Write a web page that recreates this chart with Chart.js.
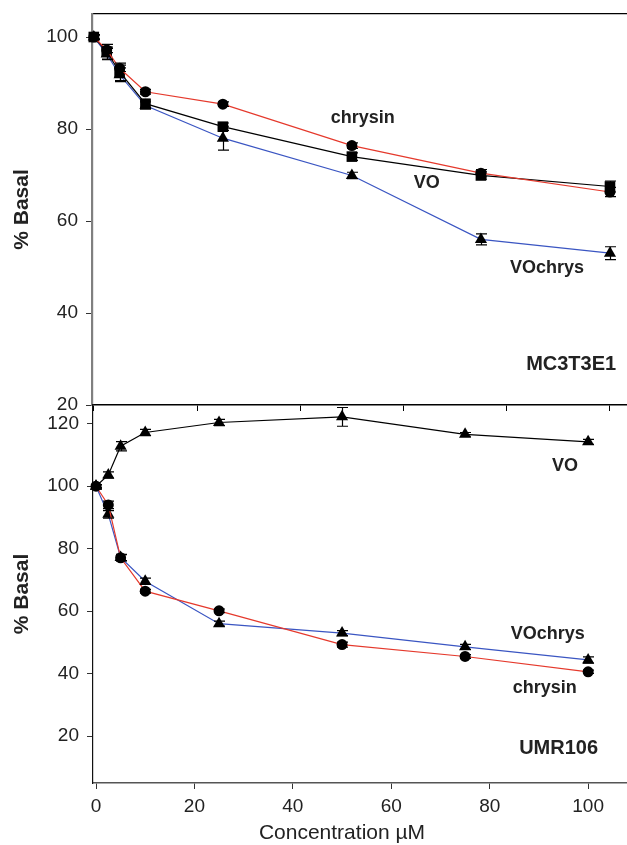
<!DOCTYPE html>
<html><head><meta charset="utf-8">
<script src="https://cdn.jsdelivr.net/npm/chart.js@4.4.0/dist/chart.umd.min.js"></script>
<style>
html,body{margin:0;padding:0;background:#fff;}
#wrap{position:relative;width:627px;height:845px;overflow:hidden;background:#fff;}
canvas{position:absolute;left:0;}
#xt{position:absolute;left:0;width:684px;top:820px;text-align:center;font:21px "Liberation Sans",Arial,sans-serif;color:#222;line-height:24px;}
</style></head><body>
<div id="wrap">
<canvas id="top" width="627" height="420" style="top:0;width:627px;height:420px"></canvas>
<canvas id="bot" width="627" height="445" style="top:400px;width:627px;height:445px"></canvas>
<div id="xt">Concentration µM</div>
</div>
<script>
// ---- data ----
const conc = [0, 2.5, 5, 10, 25, 50, 75, 100];

// MC3T3E1 (top panel)
const mcChrysin     = [100, 97.2, 93.2, 88.1, 85.4, 76.4, 70.4, 66.3];
const mcChrysinErr  = [0.5, 0.6, 0.7, 0.5, 0.5, 0.6, 0.8, 1.0];
const mcVO          = [100, 96.8, 92.4, 85.5, 80.5, 74.0, 69.9, 67.5];
const mcVOErr       = [0.5, 1.6, 1.9, 0.8, 0.8, 0.8, 0.8, 1.2];
const mcVOchrys     = [100, 96.3, 91.8, 85.1, 78.0, 69.9, 56.0, 53.0];
const mcVOchrysErr  = [0.4, 1.2, 1.5, 0.8, 2.6, 0.7, 1.2, 1.4];

// UMR106 (bottom panel)
const umrVO         = [100, 103.6, 112.8, 117.2, 120.4, 122.2, 116.6, 114.2];
const umrVOErr      = [0.5, 1.0, 1.5, 1.0, 1.0, 3.0, 0.6, 0.8];
const umrChrysin    = [100, 94.0, 77.1, 66.4, 60.1, 49.3, 45.5, 40.6];
const umrChrysinErr = [0.5, 1.2, 1.0, 0.6, 0.6, 0.8, 0.6, 0.5];
const umrVOchrys    = [100, 91.0, 77.2, 69.6, 56.0, 53.0, 48.6, 44.4];
const umrVOchrysErr = [0.5, 1.2, 1.0, 1.0, 0.8, 0.8, 0.8, 1.0];

// ticks
const mcYTicks  = [20, 40, 60, 80, 100];
const mcXTicks  = [0, 20, 40, 60, 80, 100];
const umrYTicks = [20, 40, 60, 80, 100, 120];
const umrXTicks = [0, 20, 40, 60, 80, 100];

// ---- styling ----
const FONT = '"Liberation Sans", Arial, Helvetica, sans-serif';
const RED = '#e5392c', BLUE = '#3a55c2', BLACK = '#000';
const TXT = '#222';

function ds(label, ys, err, color, style, r) {
  return {
    label, err,
    data: conc.map((x, i) => ({x, y: ys[i]})),
    borderColor: color, borderWidth: 1.2,
    pointStyle: style, pointRadius: r, pointHoverRadius: r,
    pointBackgroundColor: '#000', pointBorderColor: '#000', pointBorderWidth: 0,
    tension: 0, clip: false, fill: false
  };
}

const errorBars = {
  id: 'errorBars',
  afterDatasetsDraw(chart) {
    const {ctx} = chart; const xs = chart.scales.x, ys = chart.scales.y;
    chart.data.datasets.forEach(d => {
      if (!d.err) return;
      ctx.save(); ctx.strokeStyle = '#000'; ctx.lineWidth = 1.2;
      d.data.forEach((p, i) => {
        const e = d.err[i]; if (!e) return;
        const px = Math.round(xs.getPixelForValue(p.x)) + 0.5;
        const y1 = ys.getPixelForValue(p.y + e), y2 = ys.getPixelForValue(p.y - e);
        const cw = 5.5;
        ctx.beginPath();
        ctx.moveTo(px, y1); ctx.lineTo(px, y2);
        ctx.moveTo(px - cw, y1); ctx.lineTo(px + cw, y1);
        ctx.moveTo(px - cw, y2); ctx.lineTo(px + cw, y2);
        ctx.stroke();
      });
      ctx.restore();
    });
  }
};

function textPlugin(items) {
  return {
    id: 'textLabels',
    afterDraw(chart) {
      const {ctx} = chart; const xs = chart.scales.x, ys = chart.scales.y;
      items.forEach(it => {
        ctx.save();
        ctx.font = 'bold ' + it.size + 'px ' + FONT;
        ctx.fillStyle = TXT; ctx.textAlign = it.align || 'center'; ctx.textBaseline = 'middle';
        ctx.fillText(it.text, xs.getPixelForValue(it.x), ys.getPixelForValue(it.y));
        ctx.restore();
      });
    }
  };
}

function zeroPad(s) { s.paddingTop = 0; s.paddingBottom = 0; s.paddingLeft = 0; s.paddingRight = 0; }

const tickFont = {family: FONT, size: 19};
const titleFont = {family: FONT, size: 21, weight: 'bold'};

// ---- top chart ----
new Chart(document.getElementById('top'), {
  type: 'line',
  data: {datasets: [
    ds('chrysin', mcChrysin, mcChrysinErr, RED, 'circle', 5.5),
    ds('VO', mcVO, mcVOErr, BLACK, 'rect', 7.5),
    ds('VOchrys', mcVOchrys, mcVOchrysErr, BLUE, 'triangle', 7)
  ]},
  options: {
    responsive: false, animation: false, devicePixelRatio: 1,
    layout: {autoPadding: false, padding: {top: 14, left: 0, right: 0, bottom: 0}},
    plugins: {legend: {display: false}, tooltip: {enabled: false}},
    scales: {
      x: {
        type: 'linear', position: 'bottom', min: -0.35, max: 103.3,
        afterBuildTicks: s => { s.ticks = mcXTicks.map(v => ({value: v})); },
        afterFit: s => { s.height = 15; zeroPad(s); },
        ticks: {display: false},
        grid: {display: true, drawOnChartArea: false, drawTicks: true, tickLength: 6, color: '#000', lineWidth: 1},
        border: {display: true, color: '#000', width: 1.5}
      },
      xTop: {
        type: 'linear', position: 'top', min: -0.35, max: 103.3,
        afterFit: s => { s.height = 0; zeroPad(s); },
        ticks: {display: false},
        grid: {display: false},
        border: {display: true, color: '#000', width: 1.2}
      },
      y: {
        type: 'linear', position: 'left', min: 20, max: 105,
        afterBuildTicks: s => { s.ticks = mcYTicks.map(v => ({value: v})); },
        afterFit: s => { s.width = 92; zeroPad(s); },
        ticks: {font: tickFont, color: TXT, padding: 8},
        grid: {display: true, drawOnChartArea: false, drawTicks: true, tickLength: 6, color: '#333', lineWidth: 1},
        border: {display: true, color: '#808080', width: 2.2},
        title: {display: true, text: '% Basal', font: titleFont, color: TXT, padding: {top: 10, bottom: 0}}
      }
    }
  },
  plugins: [errorBars, textPlugin([
    {text: 'chrysin', x: 52.1, y: 82.4, size: 18},
    {text: 'VO', x: 64.5, y: 68.3, size: 18},
    {text: 'VOchrys', x: 87.8, y: 49.8, size: 18},
    {text: 'MC3T3E1', x: 101.2, y: 28.7, size: 20, align: 'right'}
  ])]
});

// ---- bottom chart ----
new Chart(document.getElementById('bot'), {
  type: 'line',
  data: {datasets: [
    ds('chrysin', umrChrysin, umrChrysinErr, RED, 'circle', 5.5),
    ds('VOchrys', umrVOchrys, umrVOchrysErr, BLUE, 'triangle', 7),
    ds('VO', umrVO, umrVOErr, BLACK, 'triangle', 7)
  ]},
  options: {
    responsive: false, animation: false, devicePixelRatio: 1,
    layout: {autoPadding: false, padding: {top: 5, left: 0, right: 0, bottom: 0}},
    plugins: {legend: {display: false}, tooltip: {enabled: false}},
    scales: {
      x: {
        type: 'linear', position: 'bottom', min: -0.61, max: 107.9,
        afterBuildTicks: s => { s.ticks = umrXTicks.map(v => ({value: v})); },
        afterFit: s => { s.height = 62; zeroPad(s); },
        ticks: {font: tickFont, color: TXT, padding: 6, maxRotation: 0, autoSkip: false},
        grid: {display: true, drawOnChartArea: false, drawTicks: true, tickLength: 6, color: '#333', lineWidth: 1},
        border: {display: true, color: '#555', width: 1.5}
      },
      y: {
        type: 'linear', position: 'left', min: 5, max: 126,
        afterBuildTicks: s => { s.ticks = umrYTicks.map(v => ({value: v})); },
        afterFit: s => { s.width = 93; zeroPad(s); },
        ticks: {font: tickFont, color: TXT, padding: 8},
        grid: {display: true, drawOnChartArea: false, drawTicks: true, tickLength: 6, color: '#333', lineWidth: 1},
        border: {display: true, color: '#111', width: 1.2},
        title: {display: true, text: '% Basal', font: titleFont, color: TXT, padding: {top: 10, bottom: 0}}
      }
    }
  },
  plugins: [errorBars, textPlugin([
    {text: 'VO', x: 95.3, y: 106.4, size: 18},
    {text: 'VOchrys', x: 91.8, y: 52.6, size: 18},
    {text: 'chrysin', x: 91.2, y: 35.4, size: 18},
    {text: 'UMR106', x: 94.0, y: 16.2, size: 20}
  ])]
});
</script>
</body></html>
